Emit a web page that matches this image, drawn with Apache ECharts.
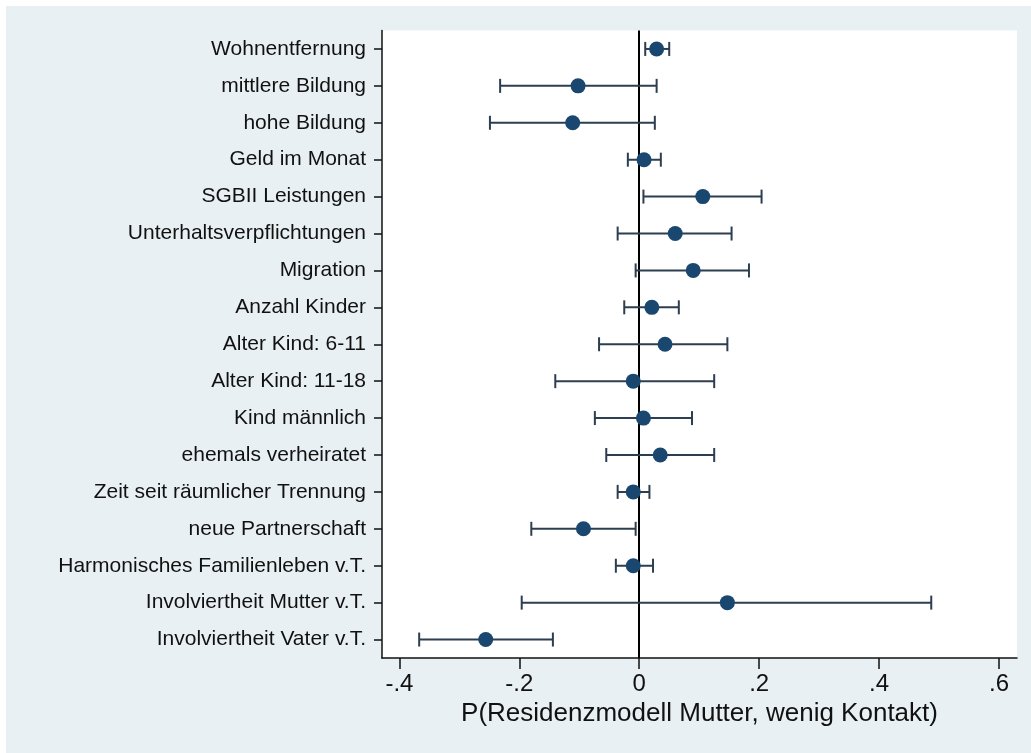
<!DOCTYPE html>
<html>
<head>
<meta charset="utf-8">
<script src="https://cdn.jsdelivr.net/npm/echarts@6/dist/echarts.min.js"></script>
<style>
html,body{margin:0;padding:0;background:#fff;}
#chart{width:1031px;height:753px;}
</style>
</head>
<body>
<div id="chart"></div>
<script>
const categories = [
  'Wohnentfernung',
  'mittlere Bildung',
  'hohe Bildung',
  'Geld im Monat',
  'SGBII Leistungen',
  'Unterhaltsverpflichtungen',
  'Migration',
  'Anzahl Kinder',
  'Alter Kind: 6-11',
  'Alter Kind: 11-18',
  'Kind männlich',
  'ehemals verheiratet',
  'Zeit seit räumlicher Trennung',
  'neue Partnerschaft',
  'Harmonisches Familienleben v.T.',
  'Involviertheit Mutter v.T.',
  'Involviertheit Vater v.T.'
];
const estimates = [0.029, -0.102, -0.111, 0.008, 0.106, 0.060, 0.090, 0.021, 0.043, -0.010, 0.007, 0.035, -0.010, -0.093, -0.010, 0.147, -0.256];
const ciLow     = [0.010, -0.232, -0.249, -0.019, 0.007, -0.036, -0.006, -0.025, -0.067, -0.140, -0.074, -0.055, -0.036, -0.180, -0.039, -0.196, -0.367];
const ciHigh    = [0.050, 0.029, 0.026, 0.036, 0.204, 0.154, 0.183, 0.066, 0.147, 0.125, 0.088, 0.125, 0.017, -0.006, 0.023, 0.487, -0.144];
const xTickValues = [-0.4, -0.2, 0, 0.2, 0.4, 0.6];
const xTickLabels = ['-.4', '-.2', '0', '.2', '.4', '.6'];
const xTitle = 'P(Residenzmodell Mutter, wenig Kontakt)';

const chart = echarts.init(document.getElementById('chart'), null, {renderer: 'canvas'});
const FONT = '"Liberation Sans", Arial, sans-serif';

const ciData = categories.map((c, i) => [ciLow[i], ciHigh[i], i]);
const ptData = categories.map((c, i) => [estimates[i], i]);

chart.setOption({
  backgroundColor: '#ffffff',
  animation: false,
  graphic: [{
    type: 'rect', z: -10, silent: true,
    shape: {x: 6, y: 6, width: 1025, height: 747},
    style: {fill: '#E8F0F3'}
  }],
  grid: {
    left: 382, right: 14, top: 30.5, bottom: 95,
    show: true, backgroundColor: '#ffffff', borderWidth: 0
  },
  xAxis: {
    type: 'value', min: -0.429, max: 0.63,
    axisLine: {show: true, onZero: false, lineStyle: {color: '#111', width: 1.5}},
    axisTick: {show: true, length: 11, customValues: xTickValues, lineStyle: {color: '#111', width: 1.5}},
    axisLabel: {
      customValues: xTickValues, fontSize: 24, margin: 14, color: '#111', fontFamily: FONT,
      formatter: function (v) {
        for (let i = 0; i < xTickValues.length; i++) {
          if (Math.abs(v - xTickValues[i]) < 1e-6) return xTickLabels[i];
        }
        return '';
      }
    },
    splitLine: {show: false},
    name: xTitle, nameLocation: 'middle', nameGap: 42,
    nameTextStyle: {fontSize: 26, color: '#111', fontFamily: FONT}
  },
  yAxis: {
    type: 'category', inverse: true, data: categories,
    axisLine: {show: true, onZero: false, lineStyle: {color: '#111', width: 1.5}},
    axisTick: {show: true, alignWithLabel: true, length: 8, lineStyle: {color: '#111', width: 1.5}},
    axisLabel: {fontSize: 21, margin: 16, color: '#111', fontFamily: FONT},
    splitLine: {show: false}
  },
  series: [
    {
      type: 'custom', z: 2,
      encode: {x: [0, 1], y: 2},
      data: ciData,
      renderItem: function (params, api) {
        const y = api.value(2);
        const p0 = api.coord([api.value(0), y]);
        const p1 = api.coord([api.value(1), y]);
        const h = 7;
        const st = {stroke: '#2C3E50', lineWidth: 2};
        return {
          type: 'group',
          children: [
            {type: 'line', shape: {x1: p0[0], y1: p0[1], x2: p1[0], y2: p1[1]}, style: st},
            {type: 'line', shape: {x1: p0[0], y1: p0[1] - h, x2: p0[0], y2: p0[1] + h}, style: st},
            {type: 'line', shape: {x1: p1[0], y1: p1[1] - h, x2: p1[0], y2: p1[1] + h}, style: st}
          ]
        };
      }
    },
    {
      type: 'scatter', z: 3,
      data: ptData,
      symbol: 'circle', symbolSize: 15,
      itemStyle: {color: '#1A476F', opacity: 1},
      markLine: {
        silent: true, symbol: 'none', label: {show: false}, z: 2,
        lineStyle: {color: '#000', width: 2, type: 'solid'},
        data: [{xAxis: 0}]
      }
    }
  ]
});
</script>
</body>
</html>
